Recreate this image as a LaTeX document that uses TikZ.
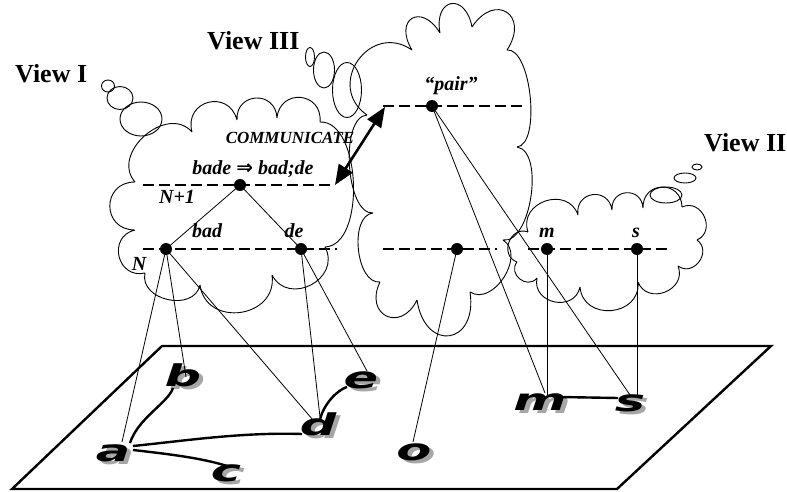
\documentclass[tikz,border=0pt]{standalone}
\usepackage{fontspec}
\setmainfont{Liberation Serif}
\newfontfamily\letterfont{DejaVu Sans}
\usetikzlibrary{calc,arrows.meta}
\newcommand\cloudbumps[1]{%
  \draw[cloudline] \foreach \ax/\ay/\bx/\by/\r in {#1} {
    (\ax,\ay) .. controls ($(\ax,\ay)!\r!90:(\bx,\by)$) and ($(\bx,\by)!\r!-90:(\ax,\ay)$) .. (\bx,\by)
  };}
\newcommand\shadowed[1]{\makebox[0pt][l]{\kern2.4pt\raisebox{-3.5pt}{\textcolor{black!35}{#1}}}#1}
\begin{document}
\begin{tikzpicture}[x=1pt,y=-1pt,
  thinline/.style={line width=0.8pt},
  cloudline/.style={line width=0.9pt},
  dashline/.style={line width=1.5pt, dash pattern=on 11pt off 5pt},
  dotnode/.style={circle, fill=black, inner sep=0pt, minimum size=12pt},
  lbl/.style={font=\fontsize{20}{20}\selectfont\bfseries\itshape, inner sep=0pt, anchor=base},
  smalllbl/.style={font=\fontsize{17}{17}\selectfont\bfseries\itshape, inner sep=0pt, anchor=base},
  viewlbl/.style={font=\fontsize{26}{26}\selectfont\bfseries, inner sep=0pt, anchor=base west},
  planeline/.style={line width=2.4pt, line join=miter},
  linkcurve/.style={line width=2.4pt},
  letter/.style={font=\letterfont\fontsize{30}{30}\selectfont\bfseries\itshape, inner sep=0pt, anchor=base, xscale=1.7},
  commarrow/.style={line width=2.6pt, {Triangle[length=20pt,width=16pt]}-{Triangle[length=20pt,width=16pt]}},
  ]
\useasboundingbox (0,0) rectangle (787,492);

% ---------- plane ----------
\draw[planeline] (162,346) -- (771,346) -- (617,489) -- (12,489) -- cycle;

% ---------- letters on the plane ----------
\node[letter] (pa) at (113,461) {\shadowed{a}};
\node[letter] (pb) at (183,386) {\shadowed{b}};
\node[letter] (pc) at (226,481) {\shadowed{c}};
\node[letter] (pd) at (318,435) {\shadowed{d}};
\node[letter] (pe) at (361,388) {\shadowed{e}};
\node[letter] (po) at (414,460) {\shadowed{o}};
\node[letter] (pm) at (540,410) {\shadowed{m}};
\node[letter] (ps) at (630,411) {\shadowed{s}};

% ---------- links on the plane ----------
\draw[linkcurve] ($(pa.base)+(17,-18)$) .. controls +(8,-25) and +(-5,15) .. ($(pb.base)+(-10,2)$);
\draw[linkcurve] ($(pa.base)+(20,-15)$) .. controls +(50,-5) and +(-60,-2) .. ($(pd.base)+(-16,-1)$);
\draw[linkcurve] ($(pa.base)+(20,-11)$) .. controls +(35,4) and +(-25,-8) .. ($(pc.base)+(1,-15)$);
\draw[linkcurve] ($(pd.base)+(2,-15)$) .. controls +(3,-15) and +(-10,3) .. ($(pe.base)+(-14,-1)$);
\draw[linkcurve] ($(pm.base)+(20,-13)$) -- ($(ps.base)+(-12,-13)$);

% ---------- clouds ----------
% View I
\cloudbumps{135/182/192/132/0.5, 192/132/237/120/0.7, 237/120/277/118/0.7, 277/118/320/122/0.7,
  320/122/325/247/0.33, 325/247/272/275/0.6, 272/275/200/285/0.6, 200/285/145/273/0.5,
  145/273/135/230/0.65, 135/230/135/182/0.7}
\draw[cloudline] (108,86) ellipse [x radius=6.5pt, y radius=6pt];
\draw[cloudline] (120,98) ellipse [x radius=13pt, y radius=11.5pt];
\draw[cloudline] (141,119) ellipse [x radius=21pt, y radius=17pt];
% View III
\cloudbumps{380/282/373/213/0.35, 373/213/367/115/0.28, 367/115/412/50/0.65, 412/50/440/33/1.1,
  440/33/472/27/1.1, 472/27/507/50/1.0, 507/50/517/147/0.25, 517/147/503/240/0.3,
  503/240/470/292/0.45, 470/292/417/300/1.0, 417/300/380/282/0.9}
\draw[cloudline] (310,57) ellipse [x radius=4.5pt, y radius=9.5pt];
\draw[cloudline] (324,70) ellipse [x radius=10.5pt, y radius=18pt];
\draw[cloudline] (347,90) ellipse [x radius=14.5pt, y radius=27.5pt];
% View II
\cloudbumps{517/262/528/232/0.6, 528/232/578/215/0.6, 578/215/612/210/0.7, 612/210/643/208/0.7,
  643/208/682/207/0.7, 682/207/697/240/0.6, 697/240/678/266/0.6, 678/266/638/282/0.6,
  638/282/580/287/0.6, 580/287/537/278/0.6, 537/278/517/262/0.6}
\draw[cloudline] (697,167) ellipse [x radius=5pt, y radius=3pt];
\draw[cloudline] (685,178) ellipse [x radius=11pt, y radius=5pt];
\draw[cloudline] (666,195) ellipse [x radius=16pt, y radius=8pt];

% ---------- levels ----------
\coordinate (n1l) at (143,185); \coordinate (n1r) at (333,185);
\coordinate (n0l) at (143,249); \coordinate (n0r) at (337,249);
\coordinate (p3l) at (383,106); \coordinate (p3r) at (527,106);
\coordinate (m3l) at (383,249); \coordinate (m3r) at (497,249);
\coordinate (v2l) at (528,249); \coordinate (v2r) at (670,249);
\draw[dashline] (n1l) -- (n1r);
\draw[dashline] (n0l) -- (n0r);
\draw[dashline] (p3l) -- (p3r);
\draw[dashline] (m3l) -- (m3r);
\draw[dashline] (v2l) -- (v2r);

\node[dotnode] (bade) at (240,185) {};
\node[dotnode] (bad) at (166,249) {};
\node[dotnode] (de) at (301,249) {};
\node[dotnode] (pair) at (432,106) {};
\node[dotnode] (mid) at (457,249) {};
\node[dotnode] (mm) at (547,249) {};
\node[dotnode] (ss) at (637,249) {};

% ---------- thin connectors ----------
\draw[thinline] (bade.center) -- (bad.center);
\draw[thinline] (bade.center) -- (de.center);
\draw[thinline] (bad.center) -- ($(pa.base)+(9,-19)$);
\draw[thinline] (bad.center) -- ($(pb.base)+(3,-9)$);
\draw[thinline] (bad.center) -- ($(pd.base)+(-5,-15)$);
\draw[thinline] (de.center) -- ($(pd.base)+(2,-18)$);
\draw[thinline] (de.center) -- ($(pe.base)+(6,-17)$);
\draw[thinline] (mid.center) -- ($(po.base)+(-1,-18)$);
\draw[thinline] (pair.center) -- ($(pm.base)+(5,-17)$);
\draw[thinline] (pair.center) -- ($(ps.base)+(0,-16)$);
\draw[thinline] (mm.center) -- ($(pm.base)+(7,-15)$);
\draw[thinline] (ss.center) -- ($(ps.base)+(7,-16)$);

% ---------- communicate arrow ----------
\coordinate (commL) at (335,185);
\coordinate (commU) at (385,107);
\draw[commarrow] (commL) -- (commU);

% ---------- labels ----------
\node[viewlbl] (v1) at (15,83) {View I};
\node[viewlbl] (v3) at (207,50) {View III};
\node[viewlbl] (v2) at (704,151) {View II};
\node[smalllbl] (comm) at (290,143) {COMMUNICATE};
\node[lbl] (badelbl) at (253,175) {bade {\letterfont\bfseries\upshape ⇒} bad;de};
\node[lbl] (n1lbl) at (177,203) {N+1};
\node[lbl] (badlbl) at (207,237) {bad};
\node[lbl] (delbl) at (294,237) {de};
\node[lbl] (nlbl) at (139,270) {N};
\node[lbl] (pairlbl) at (451,91) {“pair”};
\node[lbl] (mlbl) at (547,237) {m};
\node[lbl] (slbl) at (636,237) {s};
\end{tikzpicture}
\end{document}
